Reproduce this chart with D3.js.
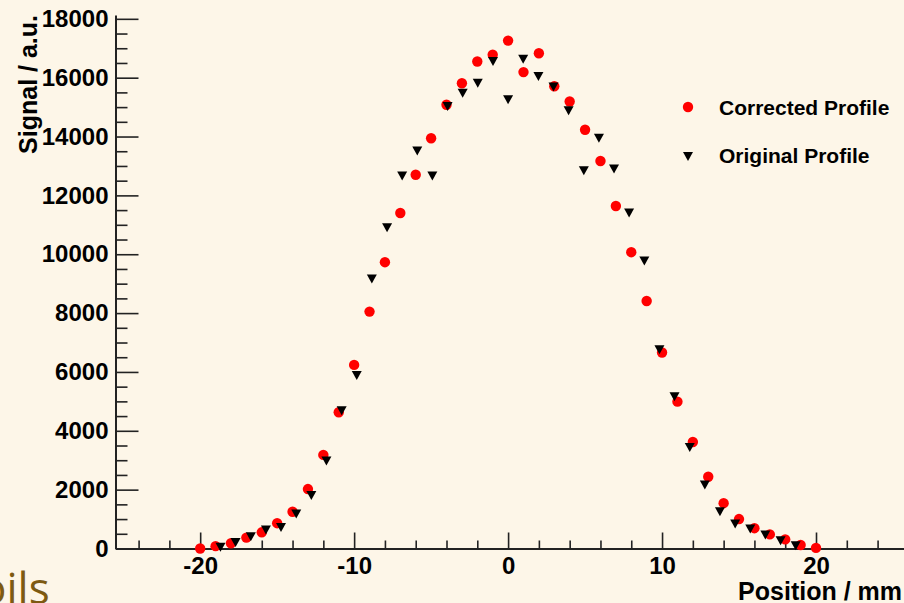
<!DOCTYPE html>
<html>
<head>
<meta charset="utf-8">
<script src="https://cdn.jsdelivr.net/npm/d3@7"></script>
<style>
html, body { margin: 0; padding: 0; background: #fdf6e8; overflow: hidden; }
svg { display: block; }
text { font-family: "Liberation Sans", Arial, Helvetica, sans-serif; }
</style>
</head>
<body>
<script>
// ---- data ----
const correctedPos = [-20,-19,-18,-17,-16,-15,-14,-13,-12,-11,-10,-9,-8,-7,-6,-5,-4,-3,-2,-1,0,1,2,3,4,5,6,7,8,9,10,11,12,13,14,15,16,17,18,19,20];
const correctedVal = [0,80,180,370,550,860,1250,2020,3180,4630,6240,8050,9730,11400,12700,13940,15080,15810,16550,16780,17260,16190,16830,15710,15190,14230,13170,11640,10070,8410,6660,4990,3620,2440,1540,1000,690,480,310,120,20];
const originalPos = [-18.68,-17.70,-16.71,-15.73,-14.75,-13.76,-12.78,-11.80,-10.81,-9.83,-8.85,-7.86,-6.88,-5.90,-4.92,-3.93,-2.95,-1.97,-0.98,0,0.98,1.97,2.95,3.93,4.92,5.90,6.88,7.86,8.85,9.83,10.81,11.80,12.78,13.76,14.75,15.73,16.71,17.70,18.68];
const originalVal = [40,200,400,630,710,1170,1800,2970,4680,5880,9160,10900,12660,13510,12660,15020,15470,15810,16550,15250,16630,16040,15680,14880,12840,13940,12900,11400,9770,6750,5160,3430,2160,1250,830,660,460,265,95];
const xMajorTicks = [-20,-10,0,10,20];
const xMinorTicks = [-24,-22,-18,-16,-14,-12,-8,-6,-4,-2,2,4,6,8,12,14,16,18,22,24];
const yMajorTicks = [0,2000,4000,6000,8000,10000,12000,14000,16000,18000];
const yMinorTicks = [500,1000,1500,2500,3000,3500,4500,5000,5500,6500,7000,7500,8500,9000,9500,10500,11000,11500,12500,13000,13500,14500,15000,15500,16500,17000,17500];
const seriesNames = ["Corrected Profile", "Original Profile"];
const xTitle = "Position / mm";
const yTitle = "Signal / a.u.";

const W = 904, H = 603;
const svg = d3.select("body").append("svg").attr("width", W).attr("height", H);
svg.append("rect").attr("width", W).attr("height", H).attr("fill", "#fdf6e8");

// background slide text
svg.append("text").attr("x", -20).attr("y", 604)
  .style("font-family", "'Open Sans', 'Noto Sans', sans-serif")
  .attr("font-size", 44).attr("fill", "#7d5a12").text("oils");

const x = d3.scaleLinear().domain([-25.5, 25.8]).range([115.5, 905.3]);
const y = d3.scaleLinear().domain([0, 18130]).range([548.5, 15]);

const axisColor = "#222";
const fmt = d => String(d);

// X axis
const gx = svg.append("g").attr("transform", `translate(0,${y(0)})`);
gx.call(d3.axisBottom(x).tickValues(xMajorTicks).tickSizeInner(-16).tickSizeOuter(0).tickPadding(8).tickFormat(fmt));
const gxm = svg.append("g").attr("transform", `translate(0,${y(0)})`);
gxm.call(d3.axisBottom(x).tickValues(xMinorTicks).tickSizeInner(-8).tickSizeOuter(0).tickFormat(""));
gxm.select(".domain").remove();

// Y axis
const gy = svg.append("g").attr("transform", `translate(${x.range()[0]},0)`);
gy.call(d3.axisLeft(y).tickValues(yMajorTicks).tickSizeInner(-23).tickSizeOuter(0).tickPadding(7).tickFormat(fmt));
const gym = svg.append("g").attr("transform", `translate(${x.range()[0]},0)`);
gym.call(d3.axisLeft(y).tickValues(yMinorTicks).tickSizeInner(-12).tickSizeOuter(0).tickFormat(""));
gym.select(".domain").remove();

svg.selectAll(".domain").attr("stroke", axisColor).attr("stroke-width", 2);
svg.selectAll(".tick line").attr("stroke", axisColor).attr("stroke-width", 1.6);
svg.selectAll(".tick text").attr("fill", "#000").attr("font-size", 24).attr("font-weight", "bold")
  .style("font-family", "'Liberation Sans', Arial, sans-serif");
gx.selectAll(".tick text").attr("dy", "0.72em");

// Titles
svg.append("text").attr("x", 902).attr("y", 600).attr("text-anchor", "end")
  .attr("font-size", 25).attr("font-weight", "bold").text(xTitle);
svg.append("text").attr("transform", "translate(37,15) rotate(-90)").attr("text-anchor", "end")
  .attr("font-size", 25).attr("font-weight", "bold").text(yTitle);

const tri = "M-5,-4.5L5,-4.5L0,4.5Z";

// Corrected points
svg.append("g").selectAll("circle").data(d3.zip(correctedPos, correctedVal)).join("circle")
  .attr("cx", d => x(d[0])).attr("cy", d => y(d[1])).attr("r", 5.2).attr("fill", "#ff0000");

// Original points
svg.append("g").selectAll("path").data(d3.zip(originalPos, originalVal)).join("path")
  .attr("d", tri).attr("transform", d => `translate(${x(d[0])},${y(d[1])})`).attr("fill", "#000");

// Legend
const lg = svg.append("g");
lg.append("circle").attr("cx", 688).attr("cy", 107).attr("r", 5.2).attr("fill", "#ff0000");
lg.append("text").attr("x", 719).attr("y", 114.5).attr("font-size", 21).attr("font-weight", "bold").text(seriesNames[0]);
lg.append("path").attr("d", tri).attr("transform", "translate(688,156.5)").attr("fill", "#000");
lg.append("text").attr("x", 719).attr("y", 162.5).attr("font-size", 21).attr("font-weight", "bold").text(seriesNames[1]);
</script>
</body>
</html>
